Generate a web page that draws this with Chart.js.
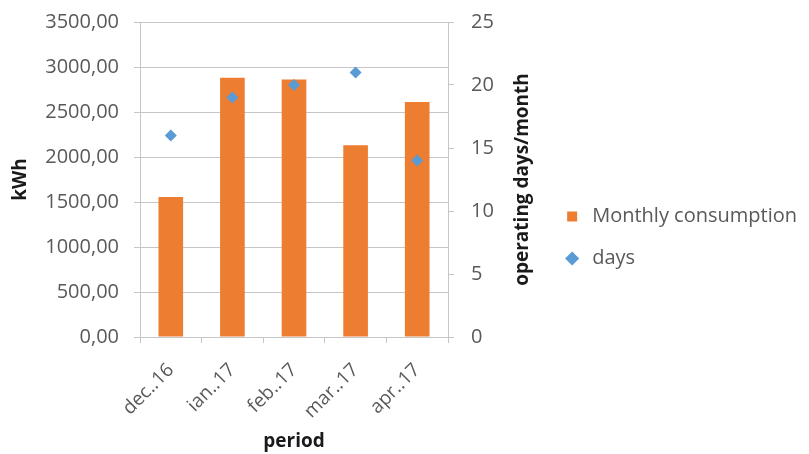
<!DOCTYPE html>
<html>
<head>
<meta charset="utf-8">
<script src="https://cdn.jsdelivr.net/npm/chart.js@4/dist/chart.umd.min.js"></script>
<style>
  html, body { margin: 0; padding: 0; background: #ffffff; }
  #wrap { width: 809px; height: 454px; }
</style>
</head>
<body>
<div id="wrap"><canvas id="c" width="809" height="454"></canvas></div>
<script>
// Monthly energy use and operating days per month
const categories = ['dec..16', 'ian..17', 'feb..17', 'mar..17', 'apr..17'];
const consumption = [1555, 2880, 2860, 2130, 2610];
const days = [16, 19, 20, 21, 14];
const kwhMax = 3500;
const kwhStep = 500;
const daysMax = 25;
const daysStep = 5;

const FONT = "'Open Sans', 'Liberation Sans', sans-serif";
const tickColor = '#595959';
const titleColor = '#1a1a1a';
const gridColor = '#c6c6c6';

// plot frame: left axis box width and right edge of the plotting area
const PAD = { left: 6, right: 2, top: 22, bottom: 1 };
const LEFT_AXIS_W = 134;
const PLOT_RIGHT = 448;

// keep the value axes from adding their own label padding above/below the plot
function trimPadding(s) { s.paddingTop = 0; s.paddingBottom = 0; }

// Right-hand axis title, reading bottom to top
const rightTitle = {
  id: 'rightTitle',
  afterDraw(chart) {
    const s = chart.scales.y1;
    const ctx = chart.ctx;
    ctx.save();
    ctx.font = 'bold 19px ' + FONT;
    ctx.fillStyle = titleColor;
    ctx.textAlign = 'center';
    ctx.textBaseline = 'middle';
    ctx.translate(s.right - 18, (s.top + s.bottom) / 2);
    ctx.rotate(-Math.PI / 2);
    ctx.fillText('operating days/month', 0, 0);
    ctx.restore();
  }
};

new Chart(document.getElementById('c'), {
  type: 'bar',
  data: {
    labels: categories,
    datasets: [
      {
        type: 'bar',
        label: 'Monthly consumption',
        data: consumption,
        backgroundColor: '#ed7d31',
        pointStyle: 'rect',
        yAxisID: 'y',
        categoryPercentage: 1,
        barPercentage: 0.4,
        order: 2
      },
      {
        type: 'line',
        label: 'days',
        data: days,
        showLine: false,
        pointStyle: 'rectRot',
        pointRadius: 6,
        pointHoverRadius: 6,
        backgroundColor: '#5b9bd5',
        borderColor: '#5b9bd5',
        borderWidth: 0,
        yAxisID: 'y1',
        order: 1
      }
    ]
  },
  options: {
    responsive: false,
    animation: false,
    layout: { padding: PAD },
    plugins: {
      tooltip: { enabled: false },
      legend: {
        position: 'right',
        maxWidth: 400,
        labels: {
          usePointStyle: true,
          boxHeight: 10,
          padding: 22,
          color: tickColor,
          font: { family: FONT, size: 20 },
          sort: (a, b) => a.datasetIndex - b.datasetIndex
        }
      }
    },
    scales: {
      x: {
        offset: true,
        grid: { display: true, drawOnChartArea: false, drawTicks: true, tickLength: 6, color: gridColor, offset: true },
        border: { display: true, color: gridColor },
        ticks: {
          color: tickColor,
          font: { family: FONT, size: 19 },
          maxRotation: 45,
          minRotation: 45,
          padding: 16
        },
        title: {
          display: true,
          text: 'period',
          color: titleColor,
          font: { family: FONT, size: 19, weight: 'bold' },
          padding: { top: 4, bottom: 0 }
        },
        afterFit(s) { s.height = 116; }
      },
      y: {
        position: 'left',
        min: 0,
        max: kwhMax,
        grid: { color: gridColor, tickLength: 6 },
        border: { display: true, color: gridColor },
        ticks: {
          stepSize: kwhStep,
          color: tickColor,
          font: { family: FONT, size: 20 },
          padding: 15,
          callback: v => v.toFixed(2).replace('.', ',')
        },
        title: {
          display: true,
          text: 'kWh',
          color: titleColor,
          font: { family: FONT, size: 19, weight: 'bold' },
          padding: { top: 3, bottom: 0 }
        },
        afterFit(s) { s.width = LEFT_AXIS_W; trimPadding(s); }
      },
      y1: {
        position: 'right',
        min: 0,
        max: daysMax,
        grid: { drawOnChartArea: false, color: gridColor, tickLength: 6 },
        border: { display: true, color: gridColor },
        ticks: {
          stepSize: daysStep,
          color: tickColor,
          font: { family: FONT, size: 20 },
          padding: 17
        },
        afterFit(s) {
          const c = s.chart;
          s.width = c.width - PAD.right - c.legend.width - PLOT_RIGHT;
          trimPadding(s);
        }
      }
    }
  },
  plugins: [rightTitle]
});
</script>
</body>
</html>
